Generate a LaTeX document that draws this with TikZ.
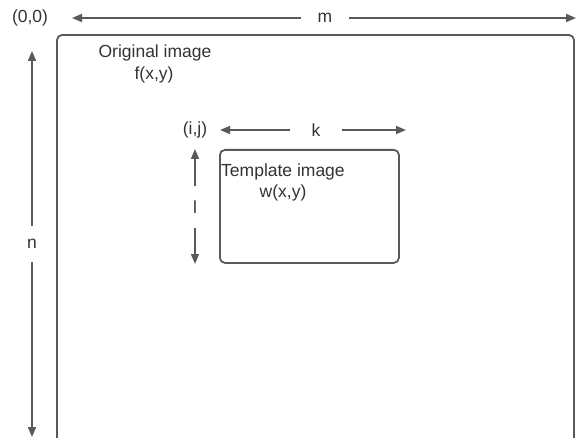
\documentclass[tikz,border=0pt]{standalone}
\usepackage{fontspec}
\setmainfont{Liberation Sans}
\usetikzlibrary{arrows.meta}
\definecolor{linegray}{HTML}{595959}
\definecolor{textgray}{HTML}{333333}
\begin{document}
\begin{tikzpicture}[x=1pt,y=-1pt,
  every node/.style={text=textgray,font=\fontsize{17.5}{20}\selectfont,inner sep=0pt},
  frame/.style={draw=linegray,line width=1.8pt,rounded corners=5pt},
  dimline/.style={draw=linegray,line width=1.5pt,-{Triangle[length=10pt,width=8pt]}},
  gaplabel/.style={inner xsep=17pt,inner ysep=18pt}]
\useasboundingbox (0,0) rectangle (577,438);

% outer image frame (runs past the bottom edge)
\path[frame] (57,460) -- (57,35) -- (574,35) -- (574,460);

% origin label
\node (origin) at (30,18) {(0,0)};

% width m
\node[gaplabel] (mlab) at (325,18) {m};
\coordinate (mL) at (72,18);
\coordinate (mR) at (576,18);
\draw[dimline] (mlab) -- (mL);
\draw[dimline] (mlab) -- (mR);

% height n
\node[inner xsep=10pt,inner ysep=13pt] (nlab) at (32,244) {n};
\coordinate (nT) at (32,51);
\coordinate (nB) at (32,437);
\draw[dimline] (nlab) -- (nT);
\draw[dimline] (nlab) -- (nB);

% original image label
\node (orig) at (155,53) {Original image};
\node (fxy) at (154,75) {f(x,y)};

% template corner
\node (ij) at (195,130) {(i,j)};

% width k
\node[inner xsep=21pt,inner ysep=10pt] (klab) at (316,130) {k};
\coordinate (kL) at (220,130);
\coordinate (kR) at (406,130);
\draw[dimline] (klab) -- (kL);
\draw[dimline] (klab) -- (kR);

% height l
\node[inner xsep=8pt,inner ysep=14pt] (llab) at (195,207) {l};
\coordinate (lT) at (195,149);
\coordinate (lB) at (195,264);
\draw[dimline] (llab) -- (lT);
\draw[dimline] (llab) -- (lB);

% template frame
\node[frame,minimum width=179pt,minimum height=113pt,anchor=north west] (tmpl) at (219,149) {};
\node[anchor=west] (tlab) at (221,172) {Template image};
\node (wxy) at (283,193) {w(x,y)};
\end{tikzpicture}
\end{document}
